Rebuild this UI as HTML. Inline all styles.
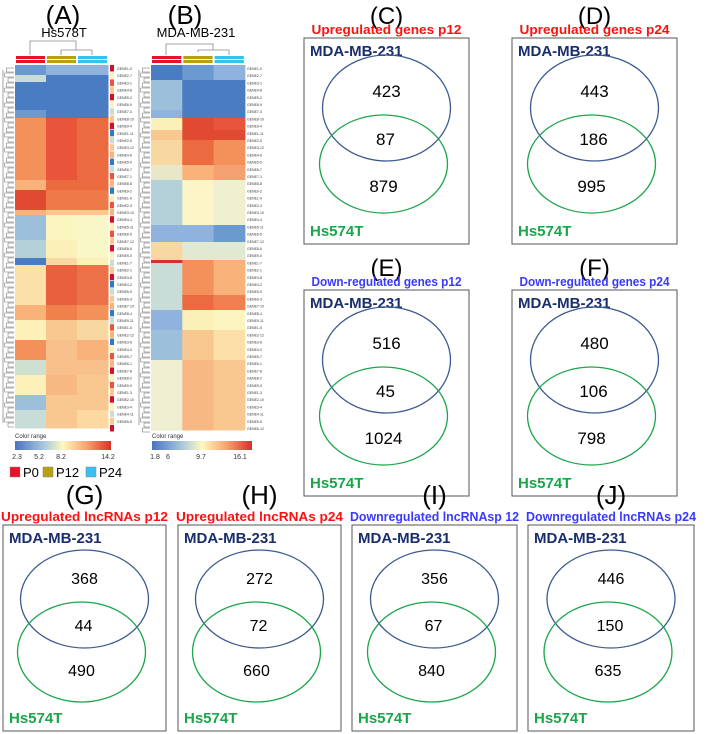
<!DOCTYPE html>
<html><head><meta charset="utf-8"><style>
body{margin:0;background:#fff;}
svg{display:block;font-family:"Liberation Sans",sans-serif;}
</style></head><body>
<svg id="fig" width="709" height="734" viewBox="0 0 709 734">
<defs>
<linearGradient id="cr" x1="0" x2="1">
<stop offset="0" stop-color="#4a74c0"/><stop offset="0.3" stop-color="#a8c8dc"/><stop offset="0.5" stop-color="#fdf8c0"/><stop offset="0.75" stop-color="#f8a070"/><stop offset="1" stop-color="#d8302a"/>
</linearGradient>
</defs>
<g id="heat"></g>
<g id="venn"></g>
</svg>
<script>
const NS="http://www.w3.org/2000/svg";
const svg=document.getElementById('fig');
function el(tag,attrs,parent,text){const e=document.createElementNS(NS,tag);for(const k in attrs)e.setAttribute(k,attrs[k]);if(text!==undefined)e.textContent=text;(parent||svg).appendChild(e);return e;}

// heatmap data: [yStart,yEnd,col1,col2,col3]
const heatA=[[65,75,"#6a9ad0","#8fb3dc","#8fb3dc"],[75,82,"#c8ddd8","#4a7cc4","#4a7cc4"],[82,110,"#4a7cc4","#4a7cc4","#4a7cc4"],[110,118,"#6a9ad0","#4a7cc4","#4a7cc4"],[118,180,"#f4905a","#e8553a","#ec6a40"],[180,190,"#f8b27a","#ec6a40","#ec6a40"],[190,210,"#e04a30","#ee7a4a","#ee7a4a"],[210,215,"#f8b27a","#f8c88e","#f8c88e"],[215,240,"#9cc0dc","#fbf5c0","#f9f6c8"],[240,258,"#b4d0d8","#fbf0b8","#f9f6c8"],[258,265,"#4a7cc4","#f8d8a0","#fbf0b8"],[265,305,"#fbe0a8","#e8603e","#ec7048"],[305,320,"#f8b27a","#f0804c","#f4905a"],[320,340,"#fdf0b8","#f8c890","#f8d8a0"],[340,360,"#f4905a","#f8c08a","#f8b27a"],[360,375,"#d0e0d0","#f8c08a","#f8c08a"],[375,395,"#fdf0b8","#f8b884","#f8c890"],[395,410,"#9cc0dc","#f8c890","#f8c890"],[410,428,"#c8ddd8","#f8c890","#fdd8a0"]];
const heatB=[[65,80,"#4a7cc4","#6a9ad0","#8fb3dc"],[80,110,"#9cc0dc","#4a7cc4","#4a7cc4"],[110,118,"#8fb3dc","#4a7cc4","#4a7cc4"],[118,130,"#fbf0b8","#e04a30","#e8553a"],[130,140,"#f8c890","#e04a30","#e04a30"],[140,165,"#f8d8a0","#ec6a40","#f4905a"],[165,180,"#e8e8c8","#f8b27a","#f4a070"],[180,225,"#b4d0d8","#fbf5c8","#eef0d0"],[225,242,"#8fb3dc","#8fb3dc","#6a9ad0"],[242,260,"#f8d8a0","#e0ead0","#e0ead0"],[260,263,"#d8302a","#f4905a","#f8b27a"],[263,295,"#c8ddd8","#f4905a","#f8b27a"],[295,310,"#c8ddd8","#ec6a40","#f08050"],[310,330,"#8fb3dc","#fbf0b8","#fdf5c0"],[330,360,"#9cc0dc","#f8c890","#fce0a8"],[360,430,"#eeeed0","#f8b884","#f8c890"]];
const sideColors=["#d0102a","#f8c890","#c8ddd8","#2a7cc4","#f8b27a","#e8553a","#fdf0b8"];

const heat=document.getElementById('heat');
function drawHeat(data,x0,w,name,lblX){
  const g=el('g',{},heat);
  
  
  data.forEach(r=>{for(let c=0;c<3;c++){const rc=el('rect',{x:x0+c*w,y:r[0],width:w+0.5,height:r[1]-r[0]+0.5,fill:r[2+c]},g);
    
    }});
  // dendrogram left
  const yEnd=data[data.length-1][1];
  for(let y=68;y<yEnd;y+=5){el('path',{d:`M${x0-1} ${y}H${x0-6-(y%15)/3}V${y+4}H${x0-1}`,stroke:"#666",fill:"none","stroke-width":0.5},g);}
  el('line',{x1:x0-12,y1:70,x2:x0-12,y2:yEnd-5,stroke:"#666","stroke-width":0.6},g);
  // labels
  let i=0;
  for(let y=68;y<yEnd-2;y+=7.2){el('text',{x:lblX,y:y+2,"font-size":3.5,fill:"#333"},g,"GENE"+(i%9+1)+"-"+(i*7%13));i++;}
}
drawHeat(heatA,15,31,'heatmap-a',117);
drawHeat(heatB,151,31.3,'heatmap-b',247);
// side color bar A
let k=0;for(let y=65;y<428;y+=7.2){const r=el('rect',{x:110,y:y,width:4,height:6.5,fill:sideColors[(k*5+k%3)%7]},heat);

k++;}

// headers
[["(A)",63,"Hs578T",64],["(B)",185,"MDA-MB-231",196]].forEach(h=>{
  el('text',{x:h[1],y:24,"font-size":26,"text-anchor":"middle"},heat,h[0]);
  el('text',{x:h[3],y:37,"font-size":13,"text-anchor":"middle"},heat,h[2]);
});
// top dendrograms & group bars
el('path',{d:"M30 55V41H76V50 M61 50V55 M61 50H92V55",stroke:"#888",fill:"none","stroke-width":0.8},heat);
el('path',{d:"M166 55V44H213V50 M198 50V52 M198 50H229V55",stroke:"#888",fill:"none","stroke-width":0.8},heat);
const grpColors=["#e8102a","#b8a010","#38c0f0"];
[[15,31],[151,31.3]].forEach(p=>{for(let c=0;c<3;c++){el('rect',{x:p[0]+c*p[1]+1,y:56,width:p[1]-2,height:3,fill:grpColors[c]},heat);el('rect',{x:p[0]+c*p[1]+1,y:60,width:p[1]-2,height:3,fill:grpColors[c]},heat);}});

// color ranges
const rangeA=["2.3","5.2","8.2","14.2"], rangeAx=[17,39,61,108];
const rangeB=["1.8","6","9.7","16.1"], rangeBx=[155,168,201,240];
[[15,96,rangeA,rangeAx],[152,100,rangeB,rangeBx]].forEach(r=>{
  el('text',{x:r[0],y:438,"font-size":6,fill:"#333"},heat,"Color range");
  el('rect',{x:r[0],y:441,width:r[1],height:9,fill:"url(#cr)"},heat);
  r[2].forEach((t,i)=>el('text',{x:r[3][i],y:459,"font-size":7,"text-anchor":"middle",fill:"#333"},heat,t));
});
// legend
[["P0",10,"#e8102a"],["P12",43,"#b8a010"],["P24",86,"#38c0f0"]].forEach(l=>{
  const g=el('g',{},heat);
  el('rect',{x:l[1],y:467,width:10,height:10,fill:l[2],stroke:"#888","stroke-width":0.5},g);
  el('text',{x:l[1]+13,y:477,"font-size":13},g,l[0]);
});

// venn data
const vLetters=["(C)","(D)","(E)","(F)","(G)","(H)","(I)","(J)"];
const vTitles=["Upregulated genes p12","Upregulated genes p24","Down-regulated genes p12","Down-regulated genes p24","Upregulated lncRNAs p12","Upregulated lncRNAs p24","Downregulated lncRNAsp 12","Downregulated lncRNAs p24"];
const vOnlyMDA=[423,443,516,480,368,272,356,446];
const vShared=[87,186,45,106,44,72,67,150];
const vOnlyHs=[879,995,1024,798,490,660,840,635];
const vTitleColors=["#ff1010","#ff1010","#3a3aff","#3a3aff","#ff1010","#ff1010","#3a3aff","#3a3aff"];
const boxes=[[304,38,165,206],[512,38,165,206],[304,290,165,206],[512,290,165,206],[3,525,163,206],[178,525,163,206],[352,525,165,206],[528,525,166,206]];

const venn=document.getElementById('venn');
boxes.forEach((b,i)=>{
  const g=el('g',{},venn);
  
  
  const [x,y,w,h]=b, cx=x+w/2, big=i<4;
  el('text',{x:cx,y:y-(big?14:21),"font-size":big?24:26,"text-anchor":"middle"},g,vLetters[i]);
  const t=el('text',{x:cx,y:y-4,"font-size":big?13:12.5,"font-weight":"bold","text-anchor":"middle",fill:vTitleColors[i],textLength:big?150:(w+4),lengthAdjust:"spacingAndGlyphs"},g,vTitles[i]);
  el('rect',{x:x,y:y,width:w,height:h,fill:"none",stroke:"#555","stroke-width":1},g);
  el('text',{x:x+6,y:y+18,"font-size":15,"font-weight":"bold",fill:"#1a2e6e"},g,"MDA-MB-231");
  el('text',{x:x+6,y:y+198,"font-size":15,"font-weight":"bold",fill:"#1aa64a"},g,"Hs574T");
  const rx=64, ry1=big?53:49;
  el('ellipse',{cx:cx,cy:y+(big?70:74),rx:rx,ry:ry1,fill:"none",stroke:"#3a5a90","stroke-width":1.3},g);
  el('ellipse',{cx:cx-3,cy:y+(big?126:127),rx:rx,ry:big?49:50,fill:"none",stroke:"#1aa64a","stroke-width":1.3},g);
  const fs=big?17:16;
  el('text',{x:cx,y:y+(big?59:59),"font-size":fs,"text-anchor":"middle"},g,vOnlyMDA[i]);
  el('text',{x:cx-1,y:y+(big?107:106),"font-size":fs,"text-anchor":"middle"},g,vShared[i]);
  el('text',{x:cx-3,y:y+(big?154:151),"font-size":fs,"text-anchor":"middle"},g,vOnlyHs[i]);
});
</script>
</body></html>
